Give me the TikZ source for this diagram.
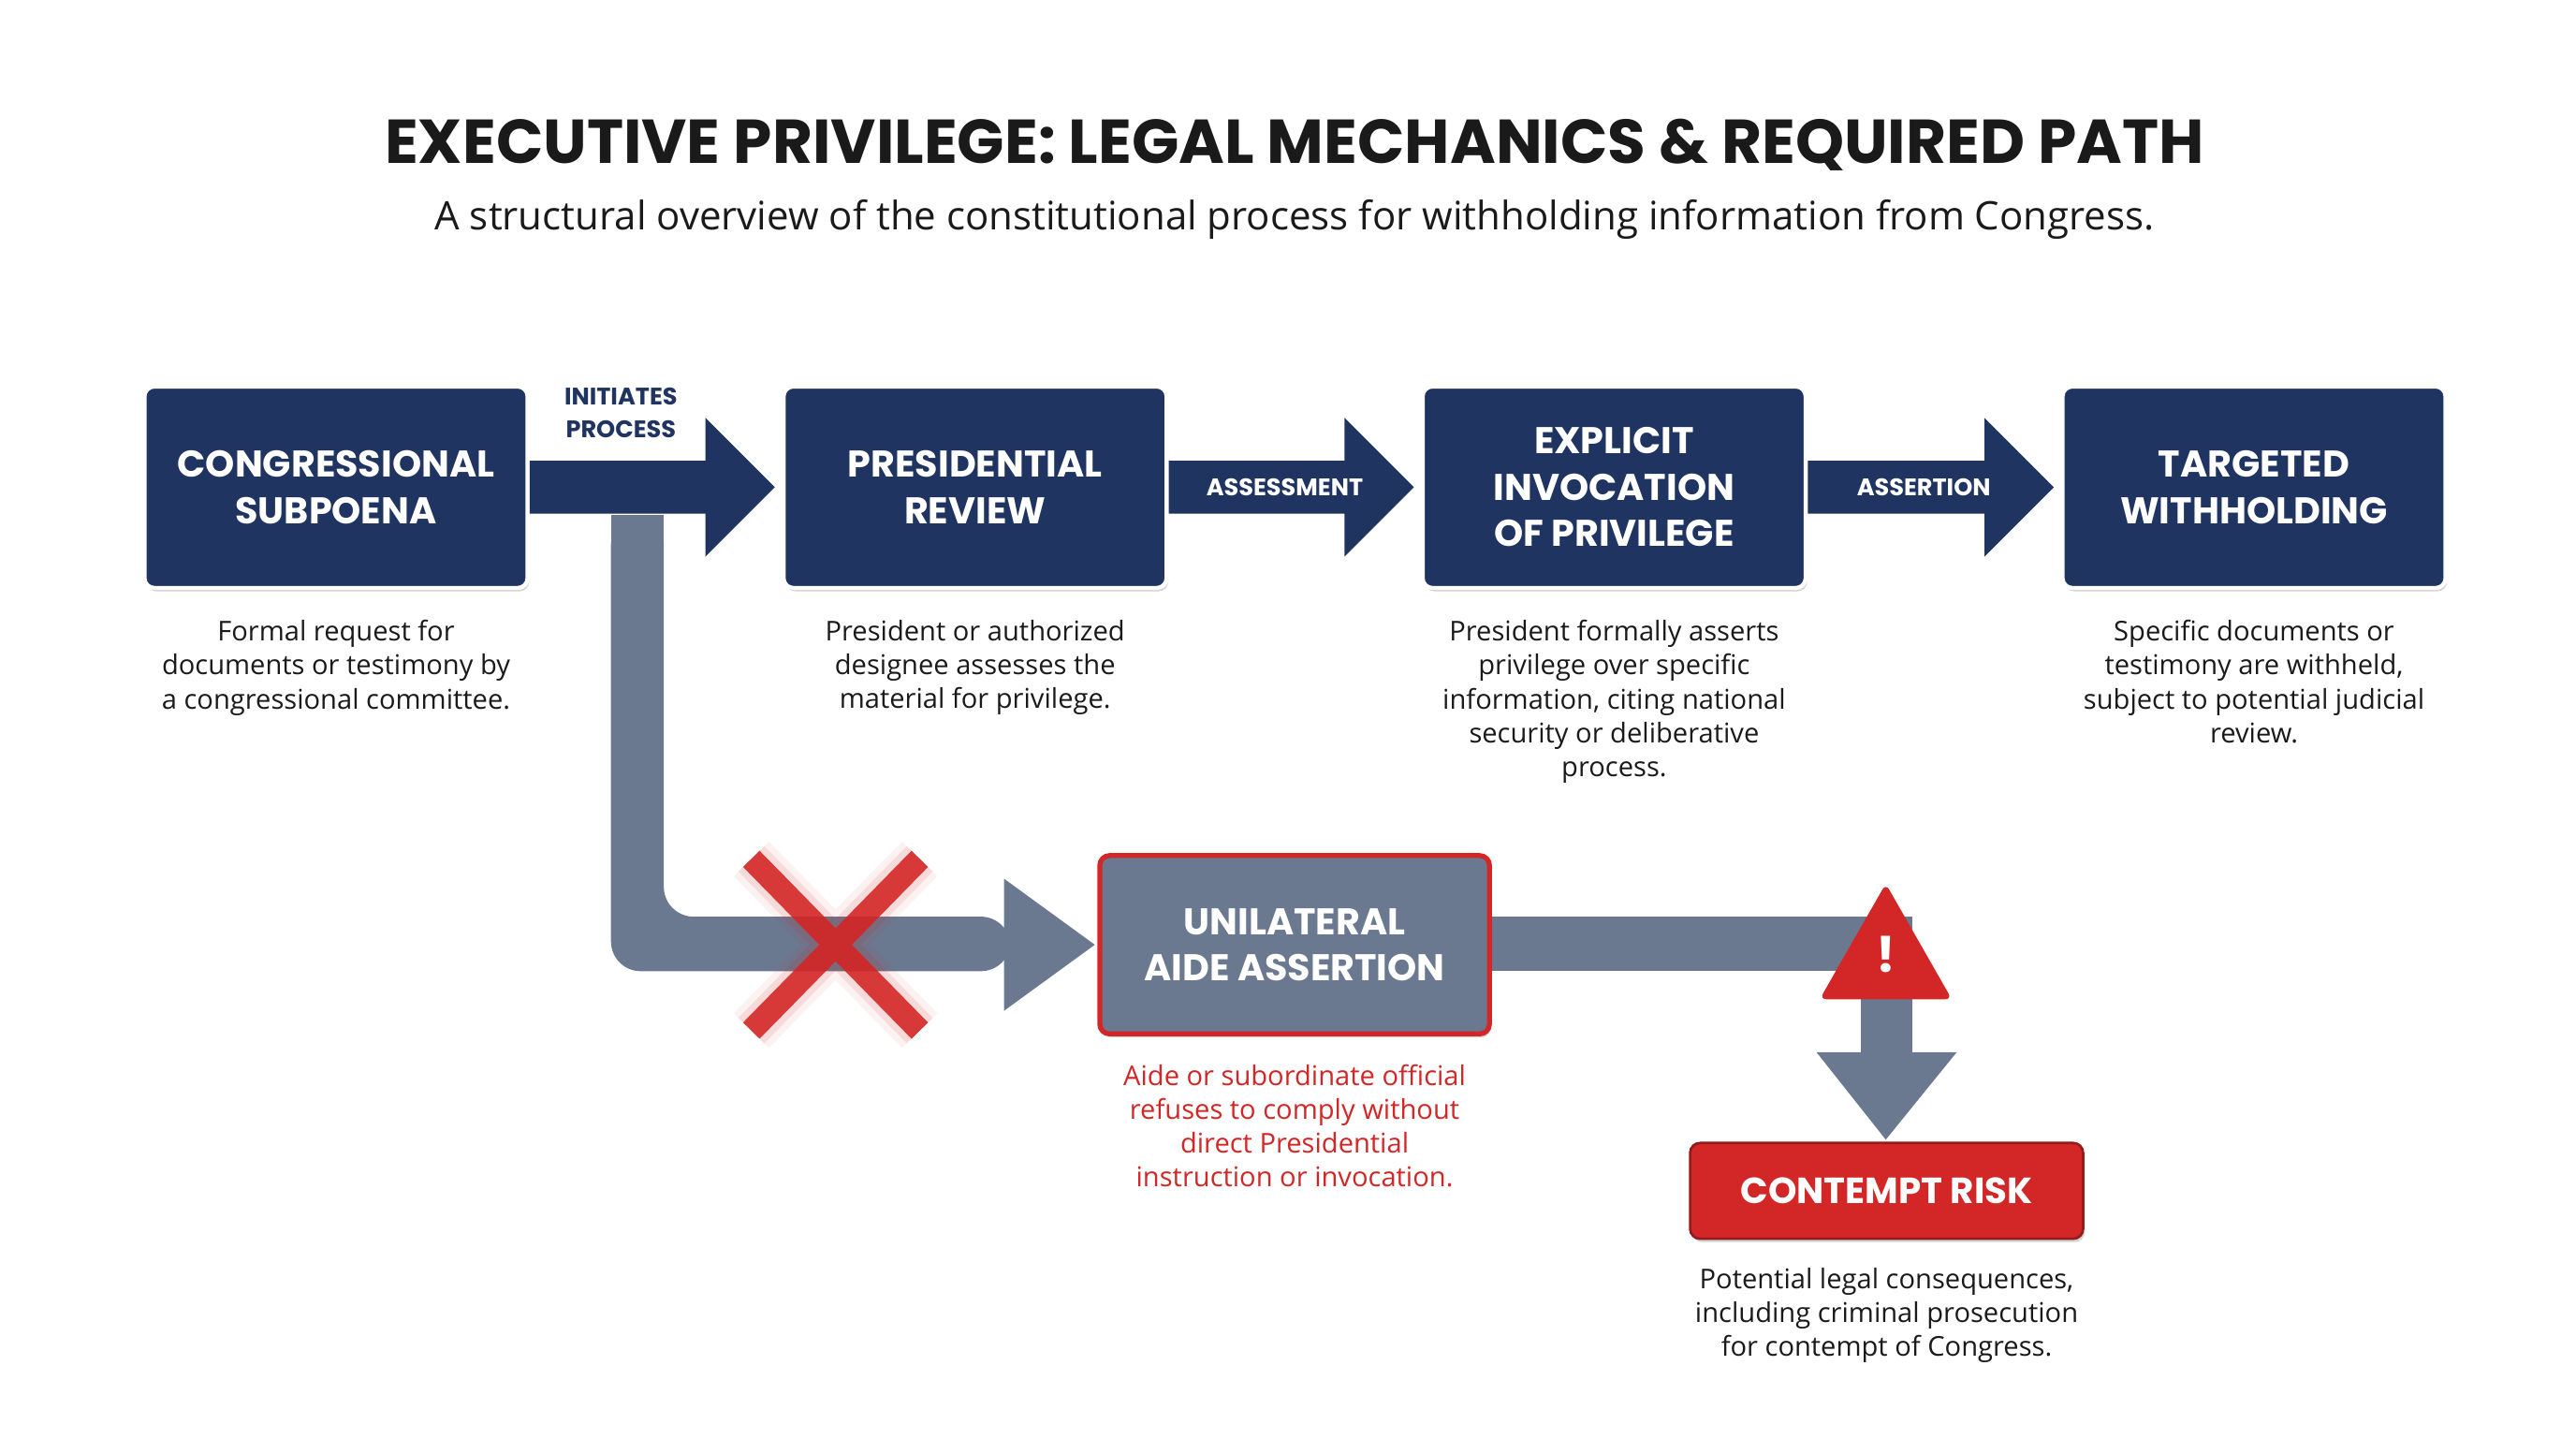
\documentclass[tikz,border=0pt]{standalone}
\usepackage{fontspec}
\setmainfont{Open Sans}
\newfontfamily\hfont{Poppins}
\usetikzlibrary{shadows,calc}
\definecolor{navy}{HTML}{1F3461}
\definecolor{slate}{HTML}{6A7890}
\definecolor{alert}{HTML}{D32626}
\definecolor{txt}{HTML}{1A1A1A}
\begin{document}
\begin{tikzpicture}[x=1pt,y=-1pt,
 box/.style={fill=navy,draw=white,line width=2.5pt,rounded corners=6pt,minimum width=232pt,minimum height=122pt,
   text=white,font=\hfont\bfseries\fontsize{22.5}{28}\selectfont,align=center,drop shadow={opacity=0.35,shadow xshift=1pt,shadow yshift=-2pt}},
 desc/.style={font=\fontsize{16.5}{20.5}\selectfont,text=txt,align=center,anchor=north},
 lab/.style={font=\hfont\bfseries\fontsize{14.5}{20}\selectfont,text=white}]
\useasboundingbox (0,0) rectangle (1560,871);
\node[font=\hfont\bfseries\fontsize{37.5}{42}\selectfont,text=txt] (title) at (784,88) {EXECUTIVE PRIVILEGE: LEGAL MECHANICS \& REQUIRED PATH};
\node[font=\fontsize{23.8}{28}\selectfont,text=txt] (sub) at (784,133) {A structural overview of the constitutional process for withholding information from Congress.};
% gray path
\fill[slate,rounded corners=18pt] (370,312) -- (402,312) -- (402,555) -- (612,555) -- (612,588) -- (370,588) -- cycle;
\fill[slate] (370,312) rectangle (402,330);
\fill[slate] (608,532) -- (663,572) -- (608,612) -- cycle;
\fill[slate] (900,555) rectangle (1158,588);
\fill[slate] (1127,580) rectangle (1158,640);
\fill[slate] (1100,637) -- (1185,637) -- (1142,690) -- cycle;
% boxes
\node[box] (b1) at (203.5,295) {CONGRESSIONAL\\SUBPOENA};
\node[box] (b2) at (590.5,295) {PRESIDENTIAL\\REVIEW};
\node[box] (b3) at (977.5,295) {EXPLICIT\\INVOCATION\\OF PRIVILEGE};
\node[box] (b4) at (1365,295) {TARGETED\\WITHHOLDING};
% arrows
\foreach \a/\b in {b1/b2,b2/b3,b3/b4}{
 \fill[navy] ($(\a.east)+(0,-16)$) -- ($(\b.west)+(-46,-16)$) -- ($(\b.west)+(-46,-42)$) -- ($(\b.west)+(-4,0)$) -- ($(\b.west)+(-46,42)$) -- ($(\b.west)+(-46,16)$) -- ($(\a.east)+(0,16)$) -- cycle;}
\node[font=\hfont\bfseries\fontsize{14.5}{20}\selectfont,text=navy,align=center] (l1) at (376,250) {INITIATES\\PROCESS};
\node[lab] (l2) at (778,295) {ASSESSMENT};
\node[lab] (l3) at (1165,295) {ASSERTION};
% descriptions
\node[desc] (d1) at (b1.south|-0,372) {Formal request for\\documents or testimony by\\a congressional committee.};
\node[desc] (d2) at (b2.south|-0,372) {President or authorized\\designee assesses the\\material for privilege.};
\node[desc] (d3) at (b3.south|-0,372) {President formally asserts\\privilege over specific\\information, citing national\\security or deliberative\\process.};
\node[desc] (d4) at (b4.south|-0,372) {Specific documents or\\testimony are withheld,\\subject to potential judicial\\review.};
% unilateral
\node[box,fill=slate,draw=alert,line width=3pt,minimum width=236pt,minimum height=108pt] (u) at (784,572) {UNILATERAL\\AIDE ASSERTION};
\node[desc,text=alert] (du) at (784,641) {Aide or subordinate official\\refuses to comply without\\direct Presidential\\instruction or invocation.};
% red X
\foreach \w/\o in {30/0.06,22/0.12,14/0.9}{
 \draw[alert,line width=\w pt,opacity=\o] (455,520) -- (557,624) (557,520) -- (455,624);}
% warning
\fill[alert,rounded corners=4pt] (1142,535) -- (1182,605) -- (1102,605) -- cycle;
\node[text=white,font=\hfont\bfseries\fontsize{30}{30}\selectfont] (ex) at (1142,578) {!};
% contempt
\node[box,fill=alert,draw=alert!70!black,line width=1.5pt,minimum width=238pt,minimum height=58pt,font=\hfont\bfseries\fontsize{22}{26}\selectfont] (c) at (1142.5,721) {CONTEMPT RISK};
\node[desc] (dc) at (1142.5,764) {Potential legal consequences,\\including criminal prosecution\\for contempt of Congress.};
\end{tikzpicture}
\end{document}
